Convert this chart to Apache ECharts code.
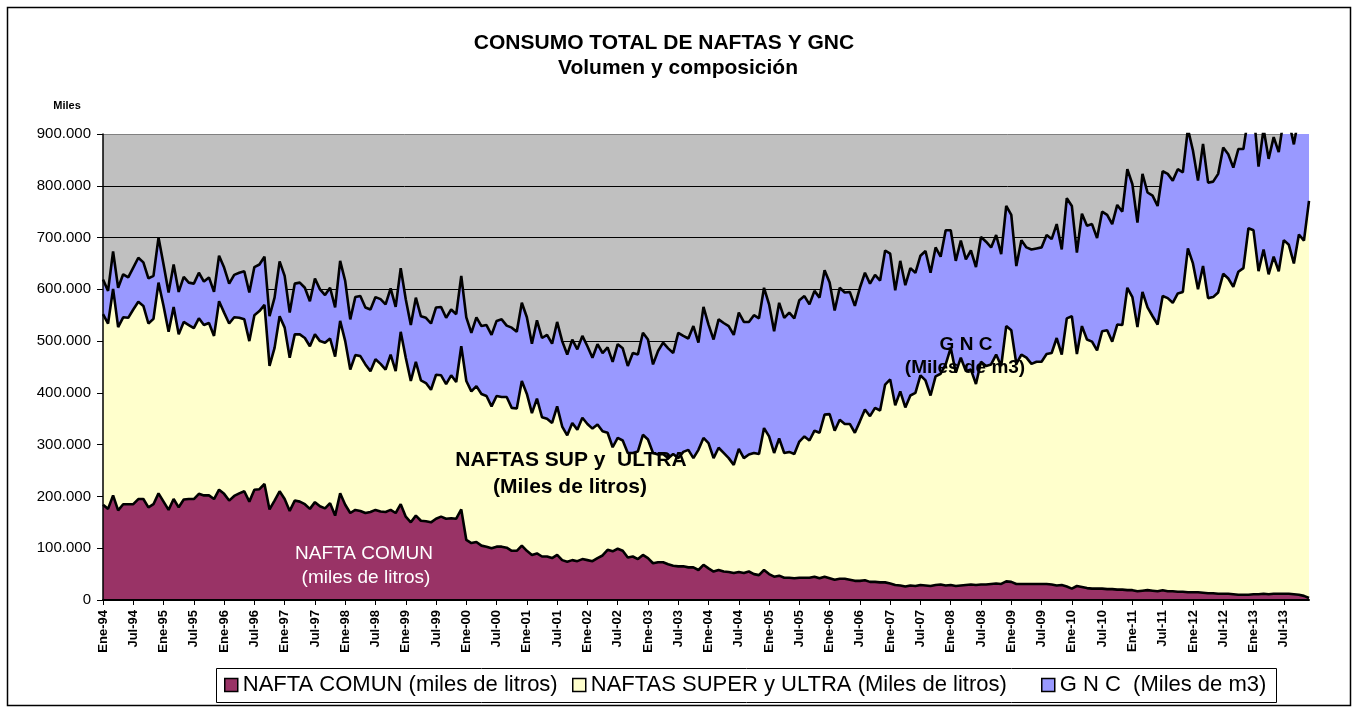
<!DOCTYPE html>
<html><head><meta charset="utf-8">
<script src="https://cdn.jsdelivr.net/npm/echarts@6/dist/echarts.min.js"></script>
<style>html,body{margin:0;padding:0;background:#fff}#c{width:1357px;height:711px}</style>
</head><body><div id="c"></div>
<script>
// ---- data (monthly, Ene-94 .. Dic-13), miles ----
const monthNames = ['Ene','Feb','Mar','Abr','May','Jun','Jul','Ago','Sep','Oct','Nov','Dic'];
const years = ['94','95','96','97','98','99','00','01','02','03','04','05','06','07','08','09','10','11','12','13'];
const yTickValues = [0,100000,200000,300000,400000,500000,600000,700000,800000,900000];

const naftaComun = [
184000,176000,202000,173000,185000,185000,185000,195000,195000,179000,185000,206000,
190000,174000,195000,179000,194000,195000,195000,205000,202000,202000,195000,213000,
205000,192000,201000,206000,210000,190000,213000,214000,224000,175000,192000,210000,
195000,172000,192000,190000,185000,176000,189000,181000,177000,187000,163000,206000,
184000,168000,174000,172000,168000,170000,174000,171000,170000,174000,168000,185000,
161000,150000,163000,153000,152000,150000,157000,161000,157000,158000,157000,175000,
116000,110000,112000,105000,103000,100000,103000,103000,101000,95000,95000,105000,
95000,87000,90000,84000,84000,81000,87000,77000,74000,77000,75000,79000,
77000,75000,81000,86000,97000,94000,99000,95000,82000,84000,79000,87000,
81000,71000,73000,73000,69000,66000,65000,65000,63000,63000,58000,68000,
61000,55000,58000,55000,54000,52000,54000,52000,55000,50000,48000,58000,
50000,45000,47000,43000,43000,42000,43000,43000,43000,45000,42000,45000,
42000,39000,41000,41000,39000,37000,37000,38000,35000,35000,34000,34000,
32000,29000,28000,26000,28000,27000,29000,28000,27000,29000,30000,28000,
29000,27000,28000,29000,30000,29000,30000,30000,31000,32000,31000,36000,
35000,31000,31000,31000,31000,31000,31000,31000,30000,28000,29000,26000,
22000,27000,25000,23000,22000,22000,22000,21000,21000,20000,20000,19000,
19000,17000,18000,19000,18000,17000,19000,17000,17000,16000,16000,15000,
15000,15000,14000,13000,13000,12000,12000,12000,11000,10000,10000,10000,
11000,11000,12000,11000,12000,12000,12000,12000,11000,10000,8000,4000
];
const naftasSuper = [
368000,358000,399000,354000,361000,360000,376000,381000,373000,355000,358000,407000,
378000,344000,371000,334000,343000,336000,330000,339000,329000,333000,315000,364000,
350000,342000,345000,339000,332000,310000,337000,344000,346000,277000,295000,338000,
331000,296000,321000,323000,321000,314000,324000,319000,320000,318000,307000,333000,
316000,277000,299000,299000,287000,272000,291000,285000,275000,300000,274000,333000,
307000,273000,297000,271000,267000,256000,278000,273000,260000,276000,264000,315000,
307000,293000,301000,293000,291000,274000,291000,289000,291000,276000,275000,318000,
303000,274000,299000,269000,266000,261000,287000,258000,244000,265000,254000,273000,
263000,256000,258000,240000,226000,201000,214000,213000,202000,200000,208000,232000,
229000,213000,208000,209000,205000,216000,209000,221000,227000,211000,232000,245000,
242000,219000,236000,229000,220000,209000,238000,222000,226000,234000,234000,274000,
266000,239000,265000,241000,243000,240000,263000,273000,265000,282000,281000,313000,
317000,288000,307000,299000,301000,286000,308000,330000,320000,336000,332000,382000,
394000,347000,375000,346000,367000,373000,405000,396000,368000,403000,407000,427000,
458000,412000,440000,413000,415000,388000,430000,422000,424000,442000,421000,493000,
486000,425000,443000,437000,425000,429000,429000,444000,447000,478000,445000,518000,
526000,448000,504000,480000,477000,460000,497000,500000,478000,512000,511000,584000,
566000,510000,577000,546000,530000,515000,568000,566000,557000,576000,579000,664000,
635000,585000,631000,570000,572000,582000,618000,609000,594000,624000,631000,708000,
703000,624000,665000,618000,651000,623000,683000,674000,639000,696000,686000,767000
];
const gnc = [
67000,63000,72000,76000,83000,78000,81000,85000,84000,87000,83000,87000,
80000,76000,82000,82000,87000,82000,86000,88000,84000,88000,85000,88000,
87000,77000,82000,87000,93000,94000,93000,90000,93000,96000,97000,106000,
100000,87000,98000,100000,97000,87000,108000,100000,92000,98000,95000,116000,
116000,97000,112000,116000,110000,119000,120000,125000,126000,128000,124000,123000,
113000,108000,124000,124000,126000,128000,130000,132000,128000,127000,131000,136000,
123000,113000,133000,131000,137000,138000,145000,150000,138000,155000,148000,151000,
148000,134000,151000,153000,162000,153000,163000,165000,156000,161000,155000,158000,
150000,137000,155000,151000,165000,165000,181000,178000,168000,193000,187000,197000,
193000,171000,200000,215000,212000,195000,242000,224000,215000,255000,207000,253000,
229000,229000,248000,251000,255000,251000,263000,263000,256000,266000,262000,271000,
255000,235000,262000,261000,269000,262000,273000,271000,263000,270000,261000,279000,
254000,232000,255000,254000,255000,245000,258000,264000,256000,257000,251000,259000,
243000,222000,252000,236000,246000,232000,231000,250000,237000,249000,226000,259000,
227000,216000,226000,216000,230000,226000,241000,240000,226000,231000,216000,232000,
223000,189000,221000,213000,221000,219000,221000,230000,220000,220000,203000,232000,
213000,196000,217000,220000,227000,217000,231000,223000,227000,231000,219000,229000,
218000,202000,228000,222000,233000,229000,241000,240000,236000,240000,231000,231000,
218000,210000,236000,223000,223000,229000,244000,240000,230000,237000,230000,217000,
231000,202000,233000,223000,231000,230000,235000,239000,230000,229000,236000,229000
];
const seriesNames = ['NAFTA COMUN (miles de litros)', 'NAFTAS SUPER y ULTRA (Miles de litros)', 'G N C  (Miles de m3)'];

// ---- build ----
const categories = [];
years.forEach(y => monthNames.forEach(m => categories.push(m + '-' + y)));
const FONT = "'Liberation Sans', Arial, sans-serif";
const colors = ['#993366', '#FFFFCC', '#9999FF'];
const dataSets = [naftaComun, naftasSuper, gnc];
const fmt = v => String(v).replace(/\B(?=(\d{3})+(?!\d))/g, '.');
const splitColors = yTickValues.map((v, i) => i === yTickValues.length - 1 ? '#808080' : '#000');

const areaSeries = dataSets.map((d, i) => ({
  name: seriesNames[i], type: 'line', stack: 'total', data: d, symbol: 'none', silent: true,
  lineStyle: { width: 0 }, itemStyle: { color: colors[i] },
  areaStyle: { color: colors[i], opacity: 1 }, z: 2, yAxisIndex: 0
}));
const outlineSeries = dataSets.map((d, i) => ({
  name: 'outline' + i, type: 'line', stack: 'outline', data: d, symbol: 'none', silent: true,
  lineStyle: { color: '#000', width: 2.6 }, z: 4, yAxisIndex: 0
}));
const legendLefts = [224, 572, 1041];

const option = {
  animation: false,
  backgroundColor: '#fff',
  grid: { left: 103, top: 134, width: 1206, height: 466, show: true, backgroundColor: '#C0C0C0', borderWidth: 0 },
  xAxis: {
    type: 'category', data: categories, boundaryGap: false, z: 10,
    axisLine: { show: true, onZero: false, lineStyle: { color: '#000', width: 2 } },
    axisTick: { show: true, interval: 5, length: 5, lineStyle: { color: '#000', width: 1 } },
    axisLabel: { interval: 5, rotate: 90, margin: 10, color: '#000', fontFamily: FONT, fontSize: 13, fontWeight: 'bold' },
    splitLine: { show: false }
  },
  yAxis: [
    { type: 'value', min: 0, max: 900000, interval: 100000,
      axisLine: { show: false }, axisTick: { show: false }, axisLabel: { show: false },
      splitLine: { show: true, lineStyle: { color: splitColors, width: 1 } } },
    { type: 'value', min: 0, max: 900000, interval: 100000, position: 'left', offset: 0, z: 10,
      axisLine: { show: true, lineStyle: { color: '#000', width: 1.5 } },
      axisTick: { show: true, length: 6, lineStyle: { color: '#000', width: 1 } },
      axisLabel: { margin: 12, color: '#000', fontFamily: FONT, fontSize: 15, formatter: fmt },
      splitLine: { show: false } }
  ],
  legend: seriesNames.map((n, i) => ({
    data: [n], left: legendLefts[i], top: 674, padding: 0, icon: 'rect',
    itemWidth: 13, itemHeight: 13, selectedMode: false,
    itemStyle: { borderColor: '#000', borderWidth: 1.5 },
    textStyle: { fontFamily: FONT, fontSize: 22, color: '#000' }
  })),
  series: areaSeries.concat(outlineSeries),
  graphic: { elements: [
    { type: 'rect', z: 100, silent: true, shape: { x: 7.5, y: 7.5, width: 1343, height: 698 }, style: { fill: null, stroke: '#000', lineWidth: 1.5 } },
    { type: 'rect', z: 100, silent: true, shape: { x: 216.5, y: 668.5, width: 1060, height: 34 }, style: { fill: null, stroke: '#000', lineWidth: 1 } },
    { type: 'text', z: 100, silent: true, style: { x: 664, y: 43, text: 'CONSUMO TOTAL DE NAFTAS Y GNC', font: 'bold 21px ' + FONT, fill: '#000', textAlign: 'center', textVerticalAlign: 'middle' } },
    { type: 'text', z: 100, silent: true, style: { x: 678, y: 68, text: 'Volumen y composición', font: 'bold 21px ' + FONT, fill: '#000', textAlign: 'center', textVerticalAlign: 'middle' } },
    { type: 'text', z: 100, silent: true, style: { x: 67, y: 106, text: 'Miles', font: 'bold 11px ' + FONT, fill: '#000', textAlign: 'center', textVerticalAlign: 'middle' } },
    { type: 'text', z: 3, silent: true, style: { x: 364, y: 554, text: 'NAFTA COMUN', font: '19px ' + FONT, fill: '#fff', textAlign: 'center', textVerticalAlign: 'middle' } },
    { type: 'text', z: 3, silent: true, style: { x: 366, y: 578, text: '(miles de litros)', font: '19px ' + FONT, fill: '#fff', textAlign: 'center', textVerticalAlign: 'middle' } },
    { type: 'text', z: 3, silent: true, style: { x: 571, y: 460, text: 'NAFTAS SUP y  ULTRA', font: 'bold 21px ' + FONT, fill: '#000', textAlign: 'center', textVerticalAlign: 'middle' } },
    { type: 'text', z: 3, silent: true, style: { x: 570, y: 487, text: '(Miles de litros)', font: 'bold 21px ' + FONT, fill: '#000', textAlign: 'center', textVerticalAlign: 'middle' } },
    { type: 'text', z: 3, silent: true, style: { x: 966, y: 345, text: 'G N C', font: 'bold 19px ' + FONT, fill: '#000', textAlign: 'center', textVerticalAlign: 'middle' } },
    { type: 'text', z: 3, silent: true, style: { x: 965, y: 368, text: '(Miles de m3)', font: 'bold 19px ' + FONT, fill: '#000', textAlign: 'center', textVerticalAlign: 'middle' } }
  ] }
};
const chart = echarts.init(document.getElementById('c'));
chart.setOption(option);
</script>
</body></html>
